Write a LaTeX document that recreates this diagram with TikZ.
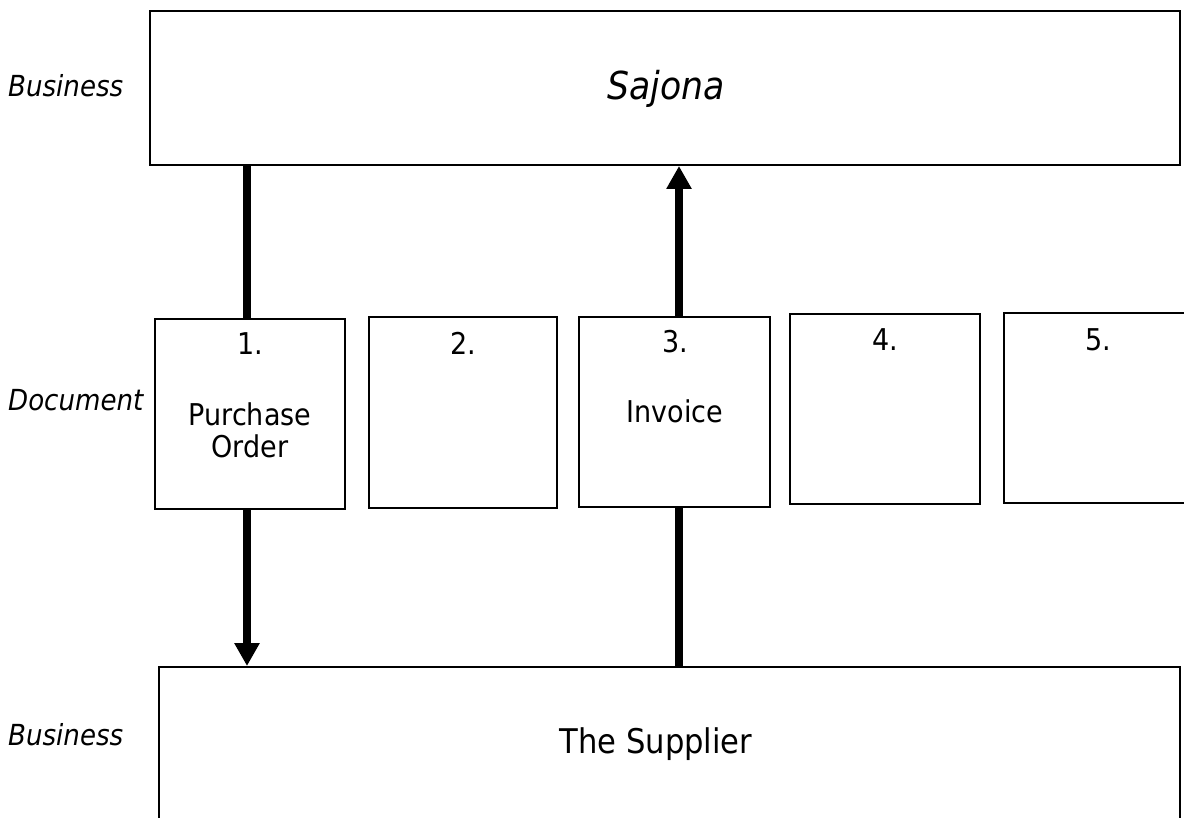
\documentclass[tikz,border=0pt]{standalone}
\usepackage{fontspec}
\setmainfont{DejaVu Sans Condensed}
\usetikzlibrary{arrows.meta}
\begin{document}
\begin{tikzpicture}[x=1pt,y=-1pt,
  box/.style={draw=black, line width=2pt, fill=none, inner sep=0pt},
  conn/.style={line width=7.5pt, black},
  tip/.style={-{Triangle[length=23pt,width=24pt]}},
  boxtext/.style={font=\fontsize{30}{34}\selectfont, anchor=base, inner sep=0pt},
  sidelabel/.style={font=\fontsize{29}{32}\selectfont\itshape, anchor=base west, inner sep=0pt}]
\clip (0,0) rectangle (1184,818);
\fill[white] (0,0) rectangle (1184,818);

% business boxes
\node[box, minimum width=1030pt, minimum height=154pt] (sajona) at (665,88) {};
\node[box, minimum width=1021pt, minimum height=206pt] (supplier) at (669.5,770) {};
\node[font=\fontsize{38.5}{42}\selectfont\itshape, anchor=base, inner sep=0pt] (tsaj) at (666,100) {Sajona};
\node[font=\fontsize{34}{40}\selectfont, anchor=base, inner sep=0pt] (tsup) at (656,753) {The Supplier};

% document boxes
\node[box, minimum width=190pt, minimum height=190pt] (b1) at (250,414) {};
\node[box, minimum width=188pt, minimum height=191pt] (b2) at (463,412.5) {};
\node[box, minimum width=191pt, minimum height=190pt] (b3) at (674.5,412) {};
\node[box, minimum width=190pt, minimum height=190pt] (b4) at (885,409) {};
\node[box, minimum width=188pt, minimum height=190pt] (b5) at (1098,408) {};

\node[boxtext] (n1) at (250,355) {1.};
\node[boxtext] (p1) at (250,425) {Purchase};
\node[boxtext] (o1) at (250,457) {Order};
\node[boxtext] (n2) at (463,355) {2.};
\node[boxtext] (n3) at (675,353) {3.};
\node[boxtext] (i3) at (675,422) {Invoice};
\node[boxtext] (n4) at (885,351) {4.};
\node[boxtext] (n5) at (1098,351) {5.};

% side labels
\node[sidelabel] (lb1) at (8,97) {Business};
\node[sidelabel] (ld) at (8,410) {Document};
\node[sidelabel] (lb2) at (8,745) {Business};

% connectors
\coordinate (xa) at (247,0);
\coordinate (xb) at (679,0);
\draw[conn] (sajona.south -| xa) -- (b1.north -| xa);
\draw[conn, tip] (b1.south -| xa) -- (supplier.north -| xa);
\draw[conn] (supplier.north -| xb) -- (b3.south -| xb);
\draw[conn, tip] (b3.north -| xb) -- (sajona.south -| xb);
\end{tikzpicture}
\end{document}
